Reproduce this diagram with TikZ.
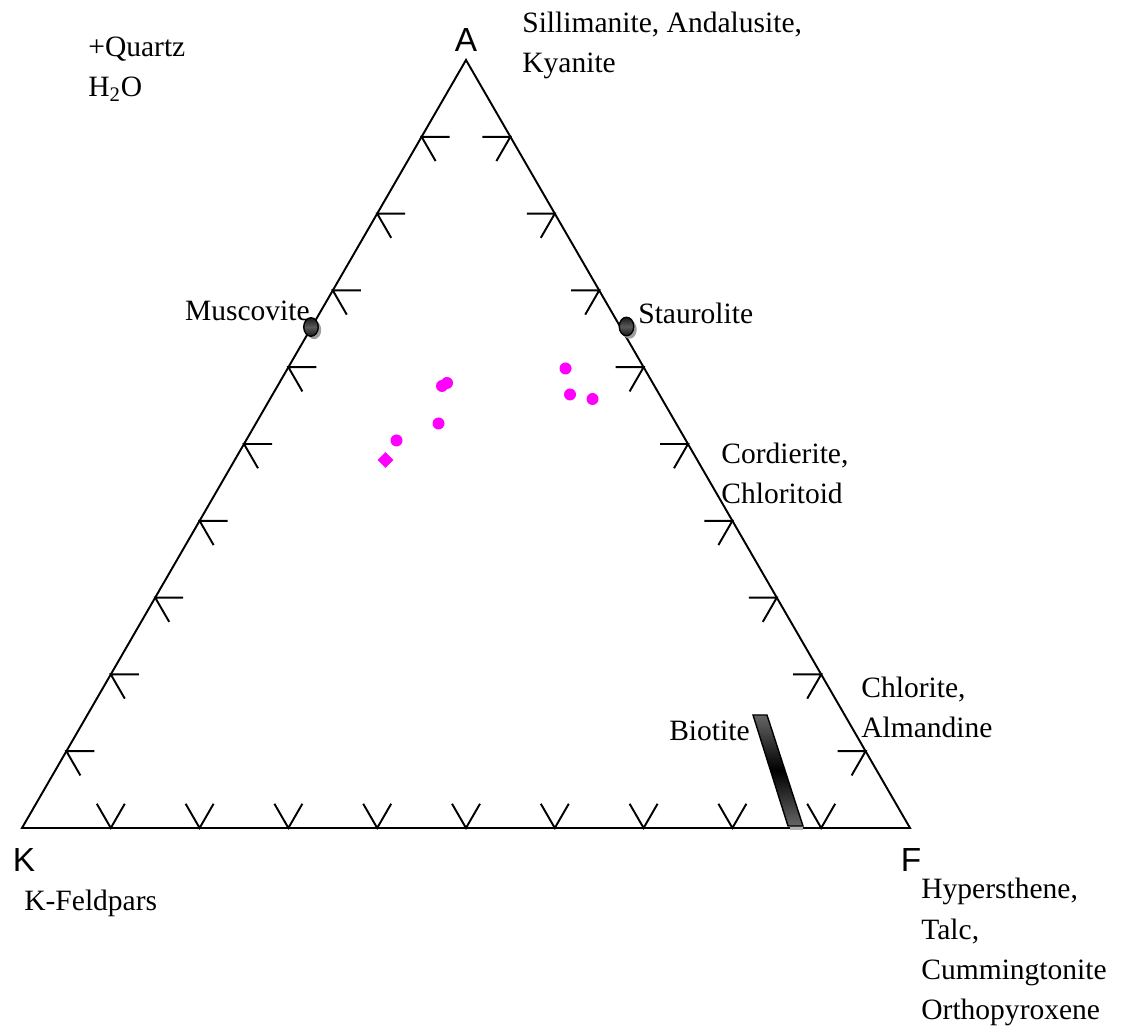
\documentclass[tikz,border=0pt]{standalone}
\usepackage{fontspec}
\setmainfont{Liberation Serif}
\setsansfont{Liberation Sans}
\usetikzlibrary{calc, shapes, positioning}

\definecolor{pmag}{RGB}{255,0,255}
\tikzset{
  lbl/.style={font=\fontsize{16.8}{22.8}\selectfont, inner sep=0pt, align=left},
  corner/.style={font=\sffamily\fontsize{19}{22}\selectfont, inner sep=0pt},
  tick/.style={line width=1.1pt},
  phase/.style={ellipse, draw=black, line width=0.8pt, minimum width=0.29cm, minimum height=0.37cm, inner sep=0pt,
    top color=black!90, bottom color=black!90, middle color=gray!70!black},
  phaseshadow/.style={ellipse, fill=gray!75, minimum width=0.29cm, minimum height=0.37cm, inner sep=0pt},
  sample/.style={circle, fill=pmag, minimum size=0.24cm, inner sep=0pt},
}

\begin{document}
\begin{tikzpicture}
            \useasboundingbox (-0.44,-4.08) rectangle (22.1,16.56);
            \coordinate (K) at (0,0);
            \coordinate (F) at (17.76,0);
            \coordinate (A) at (8.88,15.36);
            \draw[line width=1.1pt] (K) -- (F) -- (A) -- cycle;
            % ticks, every tenth
            \foreach \i in {1,...,9} {
                \coordinate (b\i) at ($(K)!\i/10!(F)$);
                \coordinate (l\i) at ($(K)!\i/10!(A)$);
                \coordinate (r\i) at ($(F)!\i/10!(A)$);
                \draw[tick] ($(b\i)+(120:0.56)$) -- (b\i) -- ++(60:0.56);
                \draw[tick] ($(l\i)+(0:0.56)$) -- (l\i) -- ++(-60:0.56);
                \draw[tick] ($(r\i)+(180:0.56)$) -- (r\i) -- ++(240:0.56);
            }
            \node[corner] (Alab) at (8.88,15.76) {A};
            \node[corner] (Klab) at (0.04,-0.64) {K};
            \node[corner] (Flab) at (17.78,-0.64) {F};
            % end members
            \node[phaseshadow] (muscsh) at (5.84,9.96) {};
            \node[phase] (musc) at (5.78,10.02) {};
            \node[phaseshadow] (staursh) at (12.15,9.97) {};
            \node[phase] (staur) at (12.09,10.03) {};
            \fill[gray!60] (15.36,0.05) rectangle (15.62,-0.05);
            \shade[top color=gray!80!black, bottom color=gray!80!black, middle color=black, draw=black, line width=0.8pt]
                (14.62,2.26) -- (14.90,2.26) -- (15.62,0.04) -- (15.32,0.04) -- cycle;
            % samples
            \node[sample] (s1) at (8.40,8.84) {};
            \node[sample] (s2) at (8.50,8.90) {};
            \node[sample] (s3) at (8.33,8.09) {};
            \node[sample] (s4) at (7.49,7.75) {};
            \node[diamond, fill=pmag, minimum size=0.32cm, inner sep=0pt] (s5) at (7.27,7.36) {};
            \node[sample] (s6) at (10.87,9.19) {};
            \node[sample] (s7) at (10.96,8.67) {};
            \node[sample] (s8) at (11.41,8.58) {};
            % labels
            \node[lbl, anchor=west] (sill) at (10.0,15.66) {Sillimanite, Andalusite,\\Kyanite};
            \node[lbl, anchor=west] (qtz) at (1.32,15.18) {+Quartz\\H\textsubscript{2}O};
            \node[lbl, anchor=east] (musclab) at (5.76,10.34) {Muscovite};
            \node[lbl, anchor=west] (staurlab) at (12.32,10.30) {Staurolite};
            \node[lbl, anchor=west] (cord) at (13.98,7.10) {Cordierite,\\Chloritoid};
            \node[lbl, anchor=west] (chl) at (16.78,2.41) {Chlorite,\\Almandine};
            \node[lbl, anchor=east] (bio) at (14.56,1.94) {Biotite};
            \node[lbl, anchor=west] (kfs) at (0.04,-1.50) {K-Feldpars};
            \node[lbl, anchor=west] (hyp) at (17.98,-2.48) {Hypersthene,\\Talc,\\Cummingtonite\\Orthopyroxene};
        \end{tikzpicture}
\end{document}
